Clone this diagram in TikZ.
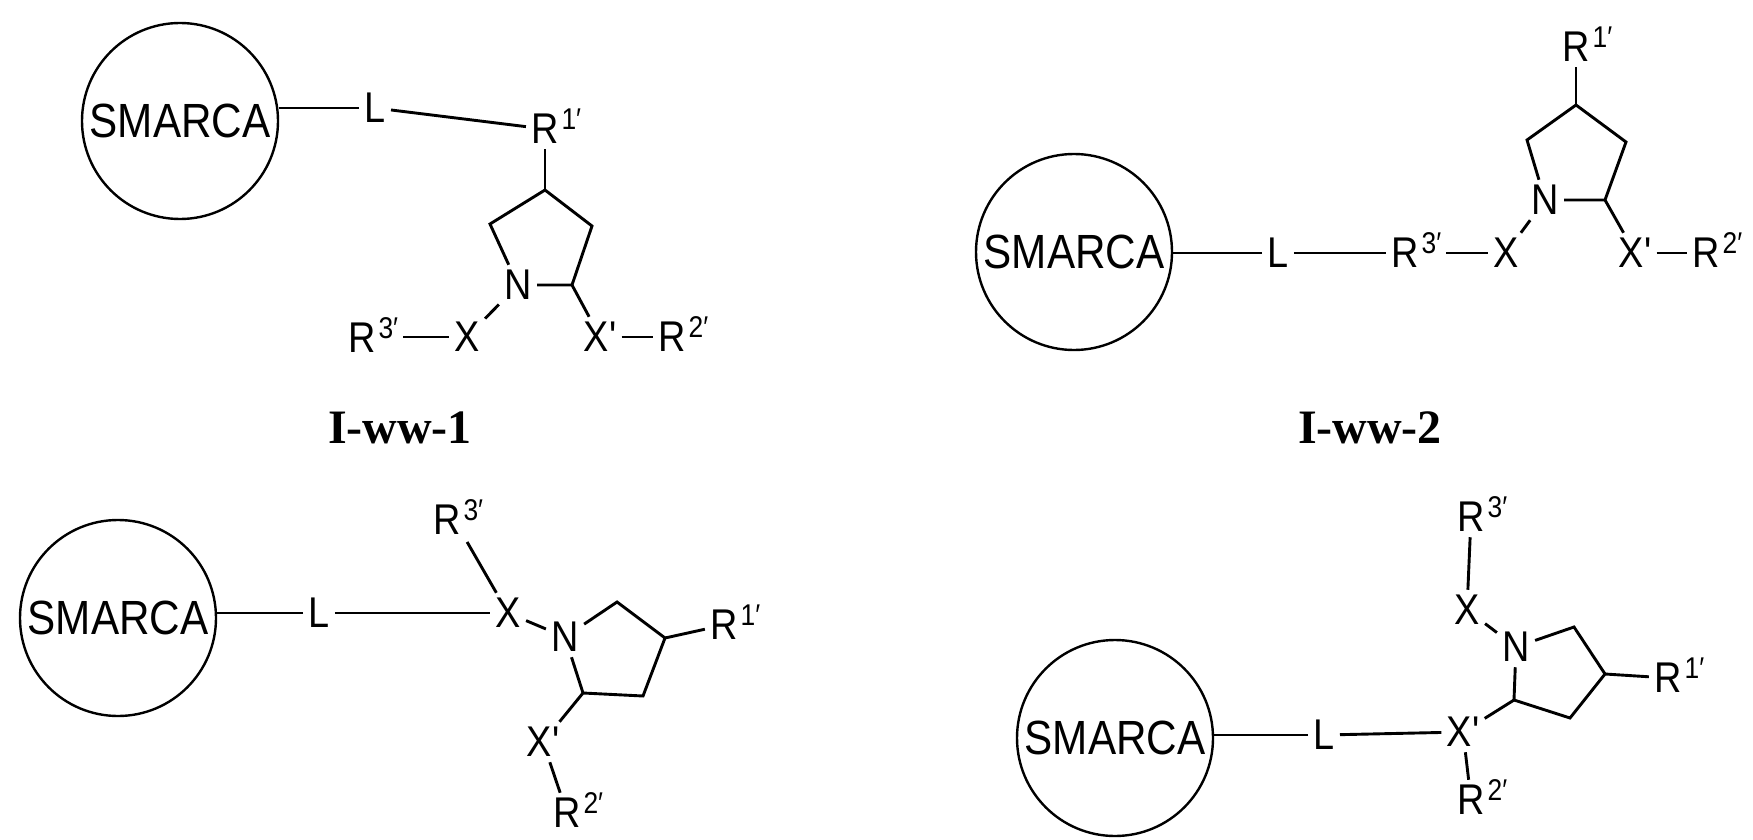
\documentclass[tikz,border=0pt]{standalone}
\usepackage{fontspec}
\setmainfont{Liberation Sans}
\newfontfamily\atomf[FakeStretch=0.88]{Liberation Sans}
\newfontfamily\timesf{Liberation Serif}
\begin{document}
\begin{tikzpicture}[x=1pt,y=-1pt,line width=2.9pt,
 atom/.style={inner sep=4pt,font=\atomf\fontsize{43}{44}\selectfont},
 sup/.style={inner sep=0pt,font=\atomf\fontsize{30}{31}\selectfont,anchor=south west},
 smarca/.style={circle,draw,line width=2.4pt,minimum size=196pt,inner sep=0pt,font=\atomf\fontsize{48}{50}\selectfont},
 title/.style={font=\timesf\bfseries\fontsize{48}{50}\selectfont},
 gap/.style={shorten >=3pt}]
\useasboundingbox (0,0) rectangle (1753,840);
\newcommand\supat[3]{\node[sup] (#1) at ([xshift=-4pt,yshift=-22pt]#2.north east) {#3};}
% ---------- I-ww-1
\node[smarca] (S1) at (180,121) {SMARCA};
\node[atom] (L1) at (375,108) {L};
\node[atom] (R11) at (545,129) {R}; \supat{R11s}{R11}{1′}
\coordinate (C41) at (545,190); \coordinate (CL1) at (490,224);
\coordinate (C21) at (572,285); \coordinate (CR1) at (592,226);
\node[atom] (N1) at (518,285) {N};
\node[atom] (X1) at (467,337) {X};
\node[atom] (Xp1) at (600,337) {X'};
\node[atom] (R21) at (672,337) {R}; \supat{R21s}{R21}{2′}
\node[atom] (R31) at (362,338) {R}; \supat{R31s}{R31}{3′}
\draw (L1) -- (L1 -| S1.east);
\draw (L1) -- (R11);
\draw (R11) -- (C41);
\draw (N1) -- (CL1) -- (C41) -- (CR1) -- (C21) -- (N1);
\draw (C21) -- (Xp1);
\draw (N1) -- (X1);
\draw[gap] (X1) -- (X1 -| R31s.east);
\draw (Xp1) -- (R21);
\node[title] (T1) at (400,428) {I-ww-1};
% ---------- I-ww-2
\node[smarca] (S2) at (1074,252) {SMARCA};
\node[atom] (L2) at (1278,253) {L};
\node[atom] (R32) at (1405,253) {R}; \supat{R32s}{R32}{3′}
\node[atom] (X2) at (1506,253) {X};
\node[atom] (N2) at (1545,200) {N};
\coordinate (CL2) at (1527,140); \coordinate (C42) at (1576,105);
\coordinate (CR2) at (1626,142); \coordinate (C22) at (1605,200);
\node[atom] (Xp2) at (1635,253) {X'};
\node[atom] (R22) at (1706,253) {R}; \supat{R22s}{R22}{2′}
\node[atom] (R12) at (1576,47) {R}; \supat{R12s}{R12}{1′}
\draw (L2) -- (L2 -| S2.east);
\draw (L2) -- (R32);
\draw[gap] (X2) -- (X2 -| R32s.east);
\draw (X2) -- (N2);
\draw (N2) -- (CL2) -- (C42) -- (CR2) -- (C22) -- (N2);
\draw (C42) -- (R12);
\draw (C22) -- (Xp2);
\draw (Xp2) -- (R22);
\node[title] (T2) at (1370,428) {I-ww-2};
% ---------- bottom left
\node[smarca] (S3) at (118,618) {SMARCA};
\node[atom] (L3) at (319,613) {L};
\node[atom] (X3) at (508,613) {X};
\node[atom] (R33) at (447,520) {R}; \supat{R33s}{R33}{3′}
\node[atom] (N3) at (565,637) {N};
\coordinate (CT3) at (617,602); \coordinate (CR3) at (665,638);
\coordinate (CB3) at (643,696); \coordinate (C23) at (583,693);
\node[atom] (R13) at (724,625) {R}; \supat{R13s}{R13}{1′}
\node[atom] (Xp3) at (543,742) {X'};
\node[atom] (R23) at (567,813) {R}; \supat{R23s}{R23}{2′}
\draw (L3) -- (L3 -| S3.east);
\draw (L3) -- (X3);
\draw[shorten >=2pt] (X3) -- (R33.south east);
\draw (X3) -- (N3);
\draw (N3) -- (CT3) -- (CR3) -- (CB3) -- (C23) -- (N3);
\draw (CR3) -- (R13);
\draw (C23) -- (Xp3);
\draw (Xp3) -- (R23);
% ---------- bottom right
\node[smarca] (S4) at (1115,738) {SMARCA};
\node[atom] (L4) at (1324,735) {L};
\node[atom] (Xp4) at (1463,732) {X'};
\node[atom] (R24) at (1471,800) {R}; \supat{R24s}{R24}{2′}
\node[atom] (X4) at (1467,610) {X};
\node[atom] (R34) at (1471,517) {R}; \supat{R34s}{R34}{3′}
\node[atom] (N4) at (1516,647) {N};
\coordinate (CT4) at (1574,627); \coordinate (CR4) at (1605,674);
\coordinate (CB4) at (1570,718); \coordinate (C24) at (1514,700);
\node[atom] (R14) at (1668,678) {R}; \supat{R14s}{R14}{1′}
\draw (L4) -- (L4 -| S4.east);
\draw (L4) -- (Xp4);
\draw (Xp4) -- (R24);
\draw (X4) -- (R34);
\draw (X4) -- (N4);
\draw (N4) -- (CT4) -- (CR4) -- (CB4) -- (C24) -- (N4);
\draw (C24) -- (Xp4);
\draw (CR4) -- (R14);
\end{tikzpicture}
\end{document}
